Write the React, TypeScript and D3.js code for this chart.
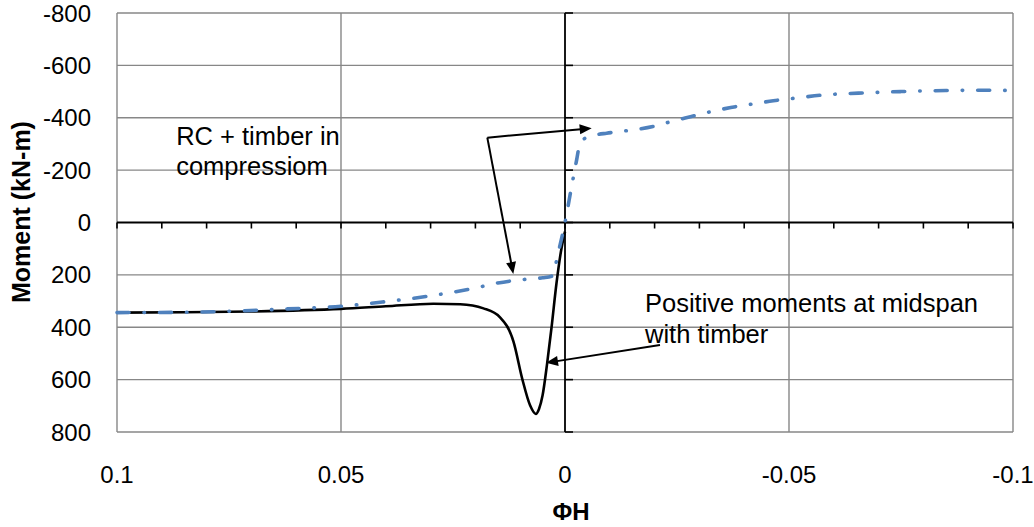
import React from "react";
import * as d3 from "d3";

// ---- data (x = ΦH, y = Moment kN-m) ----
const blueX = [0.1, 0.085, 0.072, 0.062, 0.05, 0.04, 0.03, 0.02, 0.015, 0.01, 0.005, 0.003, 0.0013, 0, -0.0015, -0.0026, -0.0033, -0.0045, -0.0065, -0.0093, -0.013, -0.017, -0.02, -0.024, -0.028, -0.033, -0.037, -0.042, -0.0465, -0.052, -0.057, -0.0655, -0.075, -0.085, -0.093, -0.1];
const blueY = [344, 343, 337, 330, 320, 302, 280, 250, 231, 219, 211, 205, 100, 0, -140, -239, -300, -322, -333, -341, -349, -358, -368, -387, -404, -425, -439, -453, -465, -476, -486, -494, -500, -504, -505, -504];

const blackX = [0.1, 0.085, 0.07, 0.05, 0.04, 0.0294, 0.0234, 0.0182, 0.0145, 0.0115, 0.0095, 0.0078, 0.0065, 0.0058, 0.005, 0.004, 0.003, 0.0019, 0.0008, 0];
const blackY = [344, 343, 340, 330, 320, 310, 312, 328, 362, 455, 600, 698, 731, 712, 660, 540, 400, 232, 100, 35];

const xTicks = [0.1, 0.05, 0, -0.05, -0.1];
const xTickLabels = ["0.1", "0.05", "0", "-0.05", "-0.1"];
const xMinorTicks = d3.range(-10, 11).map((i) => i / 100);
const yTicks = [-800, -600, -400, -200, 0, 200, 400, 600, 800];
const yTickLabels = ["-800", "-600", "-400", "-200", "0", "200", "400", "600", "800"];

const annotations = [
  { lines: ["RC + timber in", "compressiom"], x: 0.0868, y: [-296, -181] },
  { lines: ["Positive moments at midspan", "with timber"], x: -0.01786, y: [342, 460] },
];
const arrows = [
  { from: [0.01734, -324], to: [-0.00596, -360] },
  { from: [0.01734, -324], to: [0.01154, 197] },
  { from: [-0.0212, 468], to: [0.00424, 536] },
];

const W = 1034;
const H = 527;
const FONT = "'Liberation Sans', Arial, sans-serif";

export default function App() {
  const x = d3.scaleLinear().domain([0.1, -0.1]).range([117, 1013]);
  const y = d3.scaleLinear().domain([-800, 800]).range([13, 432]);

  const line = d3
    .line<[number, number]>()
    .x((d) => x(d[0]))
    .y((d) => y(d[1]))
    .curve(d3.curveMonotoneX);

  const bluePts = blueX.map((v, i) => [v, blueY[i]] as [number, number]);
  const blackPts = blackX.map((v, i) => [v, blackY[i]] as [number, number]);

  const x0 = x(0);
  const y0 = y(0);

  const arrowHead = (fx: number, fy: number, tx: number, ty: number) => {
    const ang = Math.atan2(ty - fy, tx - fx);
    const L = 12;
    const w = 5;
    const bx = tx - L * Math.cos(ang);
    const by = ty - L * Math.sin(ang);
    const px = -Math.sin(ang) * w;
    const py = Math.cos(ang) * w;
    return `M${tx},${ty}L${bx + px},${by + py}L${bx - px},${by - py}Z`;
  };

  return (
    <svg width={W} height={H} style={{ position: "absolute", left: 0, top: 0, background: "#fff" }}>
      {/* gridlines */}
      {yTicks.filter((t) => t !== 0).map((t) => (
        <line key={"gy" + t} x1={x(0.1)} x2={x(-0.1)} y1={y(t)} y2={y(t)} stroke="#878787" strokeWidth={1.4} />
      ))}
      {xTicks.filter((t) => t !== 0).map((t) => (
        <line key={"gx" + t} x1={x(t)} x2={x(t)} y1={y(-800)} y2={y(800)} stroke="#878787" strokeWidth={1.4} />
      ))}
      {/* axes */}
      <line x1={x(0.1)} x2={x(-0.1)} y1={y0} y2={y0} stroke="#000" strokeWidth={1.8} />
      <line x1={x0} x2={x0} y1={y(-800)} y2={y(800)} stroke="#000" strokeWidth={1.8} />
      {xMinorTicks.map((t) => (
        <line key={"mt" + t} x1={x(t)} x2={x(t)} y1={y0} y2={y0 + 6} stroke="#000" strokeWidth={1.6} />
      ))}
      {yTicks.map((t) => (
        <line key={"yt" + t} x1={x0} x2={x0 + 8} y1={y(t)} y2={y(t)} stroke="#000" strokeWidth={1.6} />
      ))}
      {/* tick labels */}
      {yTicks.map((t, i) => (
        <text key={"yl" + t} x={91} y={y(t) + 8.5} textAnchor="end" fontFamily={FONT} fontSize={24} fill="#000">
          {yTickLabels[i]}
        </text>
      ))}
      {xTicks.map((t, i) => (
        <text key={"xl" + t} x={x(t)} y={483} textAnchor="middle" fontFamily={FONT} fontSize={24} fill="#000">
          {xTickLabels[i]}
        </text>
      ))}
      {/* axis titles */}
      <text x={571} y={520} textAnchor="middle" fontFamily={FONT} fontSize={24} fontWeight="bold">
        ΦH
      </text>
      <text
        transform={`translate(30, ${y(-40)}) rotate(-90)`}
        textAnchor="middle"
        fontFamily={FONT}
        fontSize={25}
        fontWeight="bold"
      >
        Moment (kN-m)
      </text>
      {/* series */}
      <path d={line(blackPts) || ""} fill="none" stroke="#000" strokeWidth={2.6} />
      <path
        d={line(bluePts) || ""}
        fill="none"
        stroke="#4F81BD"
        strokeWidth={3.6}
        strokeDasharray="12 15 0.5 15"
        strokeLinecap="round"
      />
      {/* annotations */}
      {annotations.map((a, i) => (
        <g key={"an" + i}>
          {a.lines.map((l, j) => (
            <text key={j} x={x(a.x)} y={y(a.y[j])} fontFamily={FONT} fontSize={25.5} fill="#000">
              {l}
            </text>
          ))}
        </g>
      ))}
      {arrows.map((a, i) => {
        const fx = x(a.from[0]);
        const fy = y(a.from[1]);
        const tx = x(a.to[0]);
        const ty = y(a.to[1]);
        const ang = Math.atan2(ty - fy, tx - fx);
        return (
          <g key={"ar" + i}>
            <line x1={fx} y1={fy} x2={tx - 8 * Math.cos(ang)} y2={ty - 8 * Math.sin(ang)} stroke="#000" strokeWidth={2} />
            <path d={arrowHead(fx, fy, tx, ty)} fill="#000" />
          </g>
        );
      })}
    </svg>
  );
}
